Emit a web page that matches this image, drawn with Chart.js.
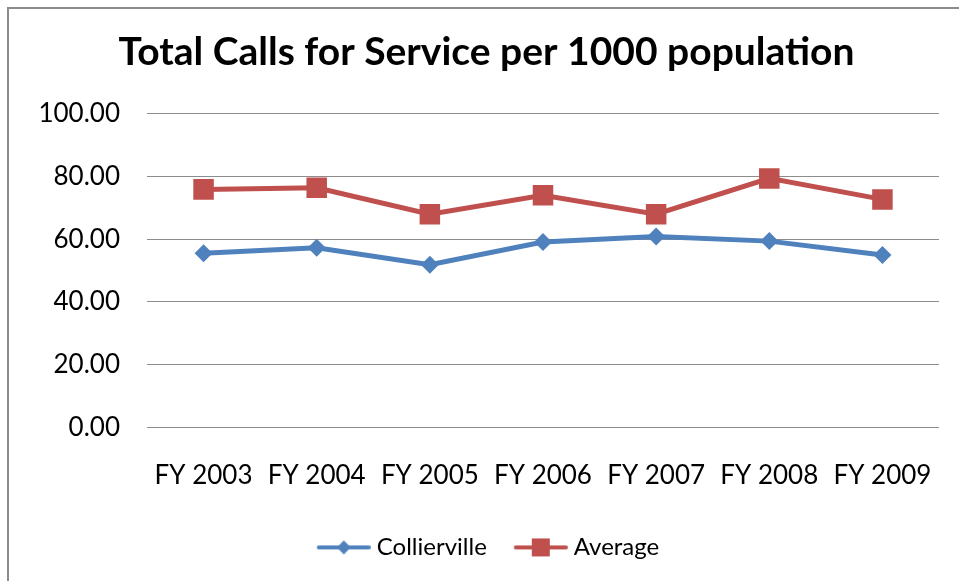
<!DOCTYPE html>
<html>
<head>
<meta charset="utf-8">
<script src="https://cdn.jsdelivr.net/npm/chart.js@4"></script>
<style>
html,body{margin:0;padding:0;background:#fff;}
#wrap{width:959px;height:581px;position:relative;}
</style>
</head>
<body>
<div id="wrap"><canvas id="c" width="959" height="581"></canvas></div>
<script>
const categories = ['FY 2003','FY 2004','FY 2005','FY 2006','FY 2007','FY 2008','FY 2009'];
const collierville = [55.5, 57.3, 51.9, 59.1, 60.9, 59.4, 55.0];
const average = [75.9, 76.4, 68.0, 74.0, 68.0, 79.4, 72.7];
const yTicks = [0, 20, 40, 60, 80, 100];

const BLUE = '#4F81BD';
const RED = '#C0504D';
const FONT = "Lato, 'Open Sans', sans-serif";

function legendIcon(color, shape) {
  const cv = document.createElement('canvas');
  cv.width = 67; cv.height = 22;
  const g = cv.getContext('2d');
  g.strokeStyle = color; g.lineWidth = 4; g.lineCap = 'round';
  g.beginPath(); g.moveTo(15, 11); g.lineTo(65, 11); g.stroke();
  g.fillStyle = color;
  if (shape === 'diamond') {
    g.beginPath(); g.moveTo(40, 4); g.lineTo(47, 11); g.lineTo(40, 18); g.lineTo(33, 11); g.closePath(); g.fill();
  } else {
    g.fillRect(31, 2, 18, 18);
  }
  return cv;
}
const icons = [legendIcon(BLUE, 'diamond'), legendIcon(RED, 'square')];

const framePlugin = {
  id: 'frame',
  afterLayout(chart) {
    if (chart.legend) { chart.legend.left += 10; chart.legend.right += 10; }
    if (chart.titleBlock) { chart.titleBlock.left += 12; chart.titleBlock.right += 12; }
  },
  beforeDraw(chart) {
    const ctx = chart.ctx;
    ctx.save();
    ctx.fillStyle = '#fff';
    ctx.fillRect(0, 0, chart.width, chart.height);
    ctx.strokeStyle = '#8c8c8c';
    ctx.lineWidth = 2;
    ctx.strokeRect(8, 8, chart.width + 20, chart.height + 20);
    ctx.restore();
  }
};

new Chart(document.getElementById('c'), {
  type: 'line',
  data: {
    labels: categories,
    datasets: [
      {
        label: 'Collierville', data: collierville,
        borderColor: BLUE, backgroundColor: BLUE, borderWidth: 5,
        pointStyle: 'rectRot', pointRadius: 9, pointHoverRadius: 9,
        pointBorderWidth: 0, tension: 0
      },
      {
        label: 'Average', data: average,
        borderColor: RED, backgroundColor: RED, borderWidth: 5,
        pointStyle: 'rect', pointRadius: 14.5, pointHoverRadius: 14.5,
        pointBorderWidth: 0, tension: 0
      }
    ]
  },
  options: {
    responsive: false,
    animation: false,
    devicePixelRatio: 1,
    layout: { padding: { left: 10, right: 20, top: 0, bottom: 11.6 } },
    plugins: {
      title: {
        display: true,
        text: 'Total Calls for Service per 1000 population',
        color: '#000',
        font: { family: FONT, size: 39, weight: 'bold' },
        padding: { top: 29, bottom: 38 }
      },
      legend: {
        position: 'bottom',
        labels: {
          color: '#000',
          font: { family: FONT, size: 24 },
          usePointStyle: true,
          pointStyleWidth: 55,
          boxHeight: 22,
          padding: 20,
          generateLabels(chart) {
            return chart.data.datasets.map((ds, i) => ({
              text: ds.label, pointStyle: icons[i], fillStyle: ds.borderColor,
              strokeStyle: ds.borderColor, lineWidth: 0, datasetIndex: i, hidden: false
            }));
          }
        }
      },
      tooltip: { enabled: false }
    },
    scales: {
      x: {
        offset: true,
        afterFit(scale) { scale.height = 88; },
        grid: { display: false, offset: true, drawTicks: true, tickLength: 33 },
        border: { display: false },
        ticks: { color: '#000', font: { family: FONT, size: 26 }, padding: 0, maxRotation: 0 }
      },
      y: {
        min: 0, max: 100,
        afterBuildTicks(scale) { scale.ticks = yTicks.map(v => ({ value: v })); },
        afterFit(scale) { scale.width = 137; },
        grid: { color: '#8c8c8c', lineWidth: 1, drawTicks: false },
        border: { display: false },
        ticks: {
          color: '#000', font: { family: FONT, size: 26 }, padding: 27,
          callback: v => Number(v).toFixed(2)
        }
      }
    }
  },
  plugins: [framePlugin]
});
</script>
</body>
</html>
